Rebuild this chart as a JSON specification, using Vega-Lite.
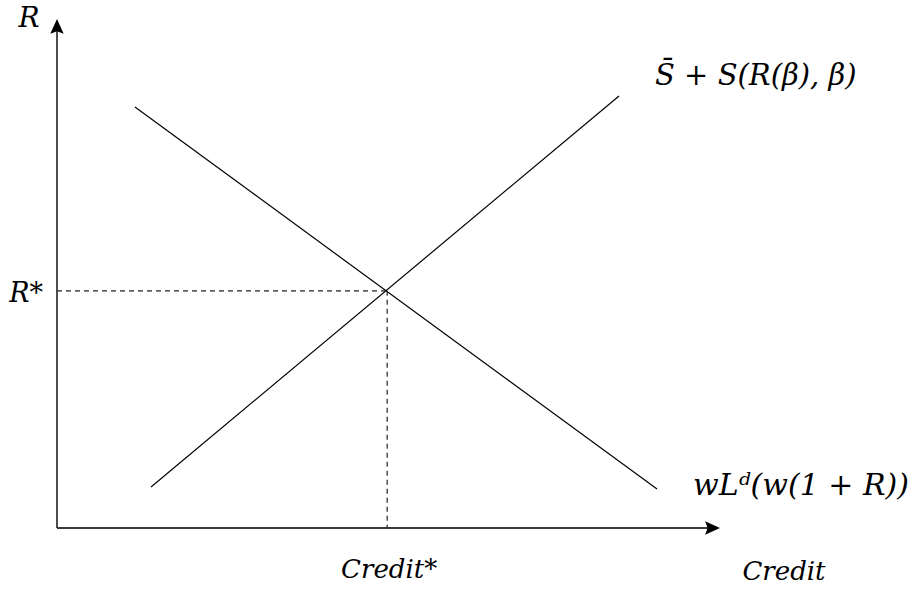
{
  "$schema": "https://vega.github.io/schema/vega-lite/v6.json",
  "width": 663,
  "height": 509,
  "autosize": {"type": "none"},
  "padding": {"left": 57, "top": 19, "right": 196, "bottom": 62},
  "background": "white",
  "config": {"view": {"stroke": null}},
  "datasets": {
    "curves": [
      {"curve": "supply", "credit": 1.418, "r": 0.806},
      {"curve": "supply", "credit": 8.477, "r": 8.487},
      {"curve": "demand", "credit": 1.176, "r": 8.271},
      {"curve": "demand", "credit": 9.05, "r": 0.766}
    ],
    "eq": [{"credit": 4.98, "r": 4.66, "zero": 0}],
    "axes": [
      {"axis": "x", "x": 0, "y": 0, "x2": 9.85, "y2": 0},
      {"axis": "y", "x": 0, "y": 0, "x2": 0, "y2": 9.85}
    ]
  },
  "layer": [
    {
      "data": {"name": "axes"},
      "mark": {"type": "rule", "color": "#3a3a3a", "strokeWidth": 1.8},
      "encoding": {
        "x": {"field": "x", "type": "quantitative", "scale": {"domain": [0, 10], "nice": false, "zero": false}, "axis": null},
        "y": {"field": "y", "type": "quantitative", "scale": {"domain": [0, 10], "nice": false, "zero": false}, "axis": null},
        "x2": {"field": "x2"},
        "y2": {"field": "y2"}
      }
    },
    {
      "data": {"values": [{"x": 0, "y": 10}]},
      "mark": {"type": "point", "filled": true, "color": "black", "opacity": 1, "size": 200, "strokeWidth": 0, "shape": "M0,0L0.95,2.1L0,1.75L-0.95,2.1Z"},
      "encoding": {
        "x": {"field": "x", "type": "quantitative", "axis": null},
        "y": {"field": "y", "type": "quantitative", "axis": null}
      }
    },
    {
      "data": {"values": [{"x": 10, "y": 0}]},
      "mark": {"type": "point", "filled": true, "color": "black", "opacity": 1, "size": 200, "strokeWidth": 0, "shape": "M0,0L-2.1,-0.95L-1.75,0L-2.1,0.95Z"},
      "encoding": {
        "x": {"field": "x", "type": "quantitative", "axis": null},
        "y": {"field": "y", "type": "quantitative", "axis": null}
      }
    },
    {
      "data": {"name": "curves"},
      "mark": {"type": "line", "color": "black", "strokeWidth": 1.2},
      "encoding": {
        "x": {"field": "credit", "type": "quantitative", "axis": null},
        "y": {"field": "r", "type": "quantitative", "axis": null},
        "detail": {"field": "curve"}
      }
    },
    {
      "data": {"name": "eq"},
      "mark": {"type": "rule", "color": "#222222", "strokeWidth": 1.2, "strokeDash": [5, 4]},
      "encoding": {
        "x": {"field": "zero", "type": "quantitative", "axis": null},
        "x2": {"field": "credit"},
        "y": {"field": "r", "type": "quantitative", "axis": null}
      }
    },
    {
      "data": {"name": "eq"},
      "mark": {"type": "rule", "color": "#222222", "strokeWidth": 1.2, "strokeDash": [5, 4]},
      "encoding": {
        "x": {"field": "credit", "type": "quantitative", "axis": null},
        "y": {"field": "r", "type": "quantitative", "axis": null},
        "y2": {"field": "zero"}
      }
    },
    {
      "data": {"name": "eq"},
      "mark": {"type": "text", "font": "DejaVu Serif", "fontStyle": "italic", "fontSize": 27, "align": "right", "baseline": "middle", "dx": -14, "dy": 3, "text": "R*"},
      "encoding": {
        "x": {"field": "zero", "type": "quantitative", "axis": null},
        "y": {"field": "r", "type": "quantitative", "axis": null}
      }
    },
    {
      "data": {"name": "eq"},
      "mark": {"type": "text", "font": "DejaVu Serif", "fontStyle": "italic", "fontSize": 26, "align": "center", "baseline": "alphabetic", "dx": 2, "dy": 50, "text": "Credit*"},
      "encoding": {
        "x": {"field": "credit", "type": "quantitative", "axis": null},
        "y": {"field": "zero", "type": "quantitative", "axis": null}
      }
    },
    {
      "data": {"values": [{"x": 0, "y": 10, "label": "R"}]},
      "mark": {"type": "text", "font": "DejaVu Serif", "fontStyle": "italic", "fontSize": 28, "align": "center", "baseline": "alphabetic", "dx": -28, "dy": 8},
      "encoding": {
        "x": {"field": "x", "type": "quantitative", "axis": null},
        "y": {"field": "y", "type": "quantitative", "axis": null},
        "text": {"field": "label"}
      }
    },
    {
      "data": {"values": [{"x": 10, "y": 0, "label": "Credit"}]},
      "mark": {"type": "text", "font": "DejaVu Serif", "fontStyle": "italic", "fontSize": 26, "align": "center", "baseline": "alphabetic", "dx": 64, "dy": 52},
      "encoding": {
        "x": {"field": "x", "type": "quantitative", "axis": null},
        "y": {"field": "y", "type": "quantitative", "axis": null},
        "text": {"field": "label"}
      }
    },
    {
      "data": {"values": [{"credit": 8.477, "r": 8.487, "label": "S̄ + S(R(β), β)"}]},
      "mark": {"type": "text", "font": "DejaVu Serif", "fontStyle": "italic", "fontSize": 29, "align": "left", "baseline": "alphabetic", "dx": 36, "dy": -11},
      "encoding": {
        "x": {"field": "credit", "type": "quantitative", "axis": null},
        "y": {"field": "r", "type": "quantitative", "axis": null},
        "text": {"field": "label"}
      }
    },
    {
      "data": {"values": [{"credit": 9.05, "r": 0.766, "label": "wLᵈ(w(1 + R))"}]},
      "mark": {"type": "text", "font": "DejaVu Serif", "fontStyle": "italic", "fontSize": 30, "align": "left", "baseline": "alphabetic", "dx": 36, "dy": 6},
      "encoding": {
        "x": {"field": "credit", "type": "quantitative", "axis": null},
        "y": {"field": "r", "type": "quantitative", "axis": null},
        "text": {"field": "label"}
      }
    }
  ]
}
